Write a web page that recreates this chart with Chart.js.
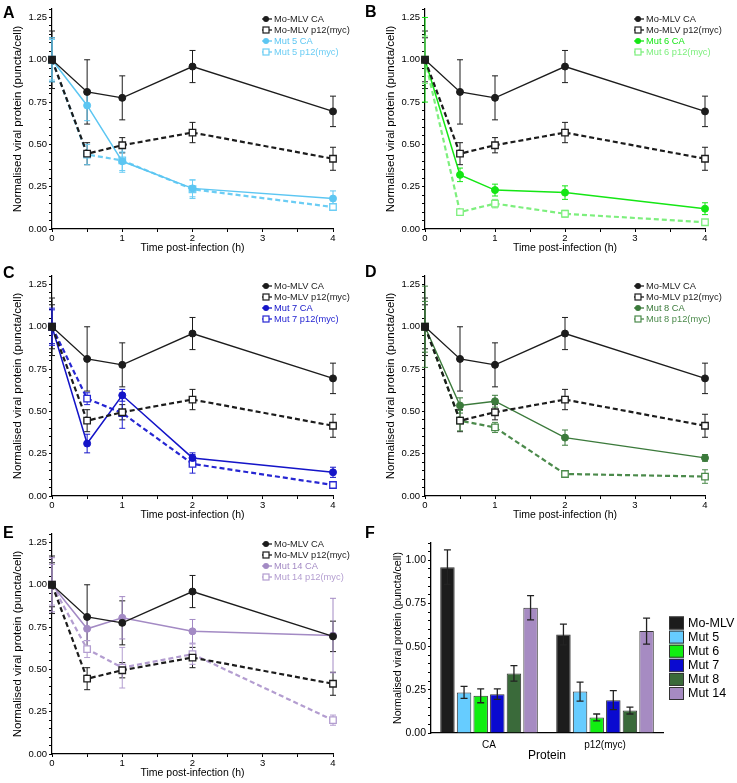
<!DOCTYPE html>
<html><head><meta charset="utf-8">
<script src="https://cdn.jsdelivr.net/npm/chart.js@4.4.0/dist/chart.umd.min.js"></script>
<style>
body{margin:0;background:#fff;width:737px;height:783px;position:relative;overflow:hidden;font-family:"Liberation Sans",Arial,sans-serif}
.p{position:absolute}
.lbl{position:absolute;font:bold 16px/1 "Liberation Sans",Arial,sans-serif;color:#000}
</style></head><body>
<div class="p" style="left:0;top:0;width:365px;height:256px"><canvas id="cA" width="365" height="256"></canvas></div>
<div class="p" style="left:373px;top:0;width:364px;height:256px"><canvas id="cB" width="364" height="256"></canvas></div>
<div class="p" style="left:0;top:267px;width:365px;height:256px"><canvas id="cC" width="365" height="256"></canvas></div>
<div class="p" style="left:373px;top:267px;width:364px;height:256px"><canvas id="cD" width="364" height="256"></canvas></div>
<div class="p" style="left:0;top:525px;width:365px;height:256px"><canvas id="cE" width="365" height="256"></canvas></div>
<div class="p" style="left:365px;top:525px;width:372px;height:258px"><canvas id="cF" width="372" height="258"></canvas></div>
<div class="lbl" style="left:3px;top:5px">A</div>
<div class="lbl" style="left:365px;top:4px">B</div>
<div class="lbl" style="left:3px;top:265px">C</div>
<div class="lbl" style="left:365px;top:264px">D</div>
<div class="lbl" style="left:3px;top:525px">E</div>
<div class="lbl" style="left:365px;top:525px">F</div>
<script>
// ---------- data ----------
const timePoints = [0, 0.5, 1, 2, 4];
const xTickValues = [0, 0.5, 1, 1.5, 2, 2.5, 3, 3.5, 4];
const yMajorTicks = [0, 0.25, 0.5, 0.75, 1.0, 1.25];

const moCA = [1.00, 0.81, 0.775, 0.96, 0.695];
const moCAErr = [0.17, 0.19, 0.13, 0.095, 0.09];
const moP12 = [1.00, 0.445, 0.495, 0.57, 0.415];
const moP12Err = [0.13, 0.065, 0.045, 0.06, 0.068];

const mut5CA = [1.00, 0.73, 0.40, 0.24, 0.18];
const mut5CAErr = [0.13, 0.09, 0.055, 0.05, 0.045];
const mut5P12 = [1.00, 0.44, 0.405, 0.235, 0.13];
const mut5P12Err = [0.12, 0.06, 0.07, 0.055, 0.02];

const mut6CA = [1.00, 0.32, 0.23, 0.215, 0.12];
const mut6CAErr = [0.25, 0.04, 0.035, 0.04, 0.035];
const mut6P12 = [1.00, 0.10, 0.15, 0.09, 0.04];
const mut6P12Err = [0.14, 0.01, 0.025, 0.02, 0.01];

const mut7CA = [1.00, 0.31, 0.595, 0.225, 0.14];
const mut7CAErr = [0.10, 0.055, 0.035, 0.03, 0.03];
const mut7P12 = [1.00, 0.575, 0.49, 0.19, 0.065];
const mut7P12Err = [0.11, 0.035, 0.09, 0.055, 0.01];

const mut8CA = [1.00, 0.535, 0.56, 0.345, 0.225];
const mut8CAErr = [0.24, 0.045, 0.035, 0.045, 0.02];
const mut8P12 = [1.00, 0.445, 0.405, 0.13, 0.115];
const mut8P12Err = [0.15, 0.06, 0.03, 0.015, 0.04];

const mut14CA = [1.00, 0.74, 0.805, 0.725, 0.70];
const mut14CAErr = [0.16, 0.07, 0.125, 0.07, 0.22];
const mut14P12 = [1.00, 0.62, 0.51, 0.59, 0.20];
const mut14P12Err = [0.12, 0.05, 0.12, 0.06, 0.03];

const barCategories = ['CA', 'p12(myc)'];
const barSeries = ['Mo-MLV', 'Mut 5', 'Mut 6', 'Mut 7', 'Mut 8', 'Mut 14'];
const barCA = [0.96, 0.235, 0.215, 0.225, 0.345, 0.725];
const barCAErr = [0.10, 0.035, 0.04, 0.03, 0.045, 0.07];
const barP12 = [0.57, 0.24, 0.09, 0.19, 0.13, 0.59];
const barP12Err = [0.06, 0.055, 0.02, 0.055, 0.02, 0.075];

// ---------- styling ----------
const FONT = '"Liberation Sans", Arial, sans-serif';
Chart.defaults.font.family = FONT;
Chart.defaults.color = '#000';
const BLACK = '#1c1c1c';

const pts = vals => timePoints.map((t, i) => ({x: t, y: vals[i]}));

function caDs(label, vals, errs, color, width) {
  return {label, data: pts(vals), errors: errs, borderColor: color, backgroundColor: color,
    borderWidth: width, pointStyle: 'circle', pointRadius: 3.5, pointBackgroundColor: color,
    pointBorderColor: color, pointBorderWidth: 1, clip: false, tension: 0, textColor: color};
}
function p12Ds(label, vals, errs, color) {
  return {label, data: pts(vals), errors: errs, borderColor: color, backgroundColor: color,
    borderWidth: 2.2, borderDash: [5, 3], pointStyle: 'rect', pointRadius: 4.6,
    pointBackgroundColor: '#fff', pointBorderColor: color, pointBorderWidth: 1.3,
    clip: false, tension: 0, textColor: color};
}

const errorBars = {
  id: 'errorBars',
  draw(chart, when) {
    const o = chart.options.plugins.errorBars || {};
    if ((o.when || 'before') !== when) return;
    const ctx = chart.ctx, ys = chart.scales.y;
    chart.data.datasets.forEach((ds, i) => {
      if (!ds.errors) return;
      const meta = chart.getDatasetMeta(i);
      ctx.save();
      ctx.strokeStyle = o.color || ds.borderColor;
      ctx.lineWidth = o.width || 1;
      ctx.setLineDash([]);
      const cw = o.cap || 3;
      meta.data.forEach((el, j) => {
        const raw = ds.data[j];
        const v = typeof raw === 'object' ? raw.y : raw;
        const e = ds.errors[j];
        const x = el.x;
        const yt = ys.getPixelForValue(v + e), yb = ys.getPixelForValue(v - e);
        ctx.beginPath();
        ctx.moveTo(x, yt); ctx.lineTo(x, yb);
        ctx.moveTo(x - cw, yt); ctx.lineTo(x + cw, yt);
        ctx.moveTo(x - cw, yb); ctx.lineTo(x + cw, yb);
        ctx.stroke();
      });
      ctx.restore();
    });
  },
  beforeDatasetsDraw(chart) { this.draw(chart, 'before'); },
  afterDatasetsDraw(chart) { this.draw(chart, 'after'); }
};

const lineLegend = {
  id: 'lineLegend',
  afterDraw(chart) {
    if (chart.config.type !== 'line') return;
    const {ctx, chartArea} = chart;
    const x0 = chartArea.right - 71;
    chart.data.datasets.forEach((ds, i) => {
      const yy = chartArea.top + 10 + i * 11;
      ctx.save();
      ctx.strokeStyle = ds.borderColor; ctx.lineWidth = 1.3;
      ctx.beginPath(); ctx.moveTo(x0, yy); ctx.lineTo(x0 + 10, yy); ctx.stroke();
      if (ds.pointStyle === 'circle') {
        ctx.fillStyle = ds.borderColor;
        ctx.beginPath(); ctx.arc(x0 + 4, yy, 3, 0, Math.PI * 2); ctx.fill();
      } else {
        ctx.fillStyle = '#fff'; ctx.lineWidth = 1.2;
        ctx.fillRect(x0 + 1, yy - 3, 6, 6); ctx.strokeRect(x0 + 1, yy - 3, 6, 6);
      }
      ctx.fillStyle = ds.textColor;
      ctx.font = '9.3px ' + FONT;
      ctx.textBaseline = 'middle';
      ctx.fillText(ds.label, x0 + 12, yy + 0.5);
      ctx.restore();
    });
  }
};

const barLegend = {
  id: 'barLegend',
  afterDraw(chart) {
    if (chart.config.type !== 'bar') return;
    const {ctx, chartArea} = chart;
    const x0 = chartArea.right + 6;
    chart.data.datasets.forEach((ds, i) => {
      const yy = chartArea.top + 80 + i * 14.1;
      ctx.save();
      ctx.fillStyle = ds.backgroundColor;
      ctx.fillRect(x0, yy - 6.5, 15, 13);
      ctx.strokeStyle = '#333'; ctx.lineWidth = 1;
      ctx.strokeRect(x0 + 0.5, yy - 6, 14, 12);
      ctx.fillStyle = '#000';
      ctx.font = '12.5px ' + FONT;
      ctx.textBaseline = 'middle';
      ctx.fillText(ds.label, x0 + 19, yy + 0.5);
      ctx.restore();
    });
  }
};
Chart.register(errorBars, lineLegend, barLegend);

const isMajor = v => yMajorTicks.some(m => Math.abs(m - v) < 1e-6);

function lineOptions() {
  return {
    responsive: false, animation: false,
    layout: {padding: {top: 9, right: 32, left: 0, bottom: 0}},
    plugins: {legend: {display: false}, tooltip: {enabled: false}, errorBars: {when: 'before', width: 1, cap: 3}},
    scales: {
      x: {
        type: 'linear', min: 0, max: 4,
        afterBuildTicks: s => { s.ticks = xTickValues.map(v => ({value: v})); },
        ticks: {callback: v => Number.isInteger(v) ? String(v) : '', font: {size: 9.5}, color: '#000', padding: 1, maxRotation: 0, autoSkip: false},
        grid: {display: true, drawOnChartArea: false, drawTicks: true, tickLength: 3, color: '#000', tickColor: '#000'},
        border: {display: true, color: '#000', width: 1.2},
        title: {display: true, text: 'Time post-infection (h)', font: {size: 10.5}, color: '#000', padding: {top: 0, bottom: 1.7}},
        afterFit: s => { s.height = 27; }
      },
      y: {
        min: 0, max: 1.3,
        afterBuildTicks: s => { const t = []; for (let k = 0; k <= 26; k++) t.push({value: +(k * 0.05).toFixed(2)}); s.ticks = t; },
        ticks: {callback: v => isMajor(v) ? v.toFixed(2) : '', font: {size: 9.5}, color: '#000', padding: 2, autoSkip: false},
        grid: {display: true, drawOnChartArea: false, drawTicks: true, tickLength: 3, color: '#000', tickColor: '#000'},
        border: {display: true, color: '#000', width: 1.2},
        title: {display: true, text: 'Normalised viral protein (puncta/cell)', font: {size: 11.5}, color: '#000', padding: {top: 11, bottom: 0}},
        afterFit: s => { s.width = 52; }
      }
    }
  };
}

function linePanel(id, mutLabel, ca, caErr, p12, p12Err, color, colorP12, caWidth) {
  new Chart(document.getElementById(id), {
    type: 'line',
    data: {datasets: [
      caDs('Mo-MLV CA', moCA, moCAErr, BLACK, 1.3),
      p12Ds('Mo-MLV p12(myc)', moP12, moP12Err, BLACK),
      caDs(mutLabel + ' CA', ca, caErr, color, caWidth),
      p12Ds(mutLabel + ' p12(myc)', p12, p12Err, colorP12)
    ]},
    options: lineOptions()
  });
}

linePanel('cA', 'Mut 5', mut5CA, mut5CAErr, mut5P12, mut5P12Err, '#5cc6f2', '#6ccdf4', 1.5);
linePanel('cB', 'Mut 6', mut6CA, mut6CAErr, mut6P12, mut6P12Err, '#14e614', '#7def7d', 1.5);
linePanel('cC', 'Mut 7', mut7CA, mut7CAErr, mut7P12, mut7P12Err, '#1414c8', '#2626d2', 1.5);
linePanel('cD', 'Mut 8', mut8CA, mut8CAErr, mut8P12, mut8P12Err, '#3b7a3b', '#4b8a4b', 1.4);
linePanel('cE', 'Mut 14', mut14CA, mut14CAErr, mut14P12, mut14P12Err, '#a38ac4', '#b39dd0', 1.5);

// ---------- bar panel F ----------
const barColors = ['#1c1c1c', '#66ccff', '#11ee11', '#0a0ad0', '#3a6a3a', '#a68bc2'];
const barDatasets = barSeries.map((name, i) => ({
  label: name,
  data: [barCA[i], barP12[i]],
  errors: [barCAErr[i], barP12Err[i]],
  backgroundColor: barColors[i],
  borderColor: '#333', borderWidth: 1,
  categoryPercentage: 0.86, barPercentage: 0.87
}));
const fMajor = [0, 0.25, 0.5, 0.75, 1.0];
new Chart(document.getElementById('cF'), {
  type: 'bar',
  data: {labels: barCategories, datasets: barDatasets},
  options: {
    responsive: false, animation: false,
    layout: {padding: {top: 18, right: 74, left: 0, bottom: 0}},
    plugins: {legend: {display: false}, tooltip: {enabled: false}, errorBars: {when: 'after', color: '#222', width: 1.3, cap: 3.5}},
    scales: {
      x: {
        grid: {display: true, drawOnChartArea: false, drawTicks: false},
        border: {display: true, color: '#000', width: 1.3},
        ticks: {font: {size: 10}, color: '#000', padding: 6},
        title: {display: true, text: 'Protein', font: {size: 12}, color: '#000', padding: {top: 0, bottom: 19.8}},
        afterFit: s => { s.height = 50; }
      },
      y: {
        min: 0, max: 1.1,
        afterBuildTicks: s => { const t = []; for (let k = 0; k <= 22; k++) t.push({value: +(k * 0.05).toFixed(2)}); s.ticks = t; },
        ticks: {callback: v => fMajor.some(m => Math.abs(m - v) < 1e-6) ? v.toFixed(2) : '', font: {size: 10.5}, color: '#000', padding: 2, autoSkip: false},
        grid: {display: true, drawOnChartArea: false, drawTicks: true, tickLength: 3, color: '#000', tickColor: '#000'},
        border: {display: true, color: '#000', width: 1.3},
        title: {display: true, text: 'Normalised viral protein (puncta/cell)', font: {size: 10.6}, color: '#000', padding: {top: 26.6, bottom: 0}},
        afterFit: s => { s.width = 66; }
      }
    }
  }
});
</script>
</body></html>
